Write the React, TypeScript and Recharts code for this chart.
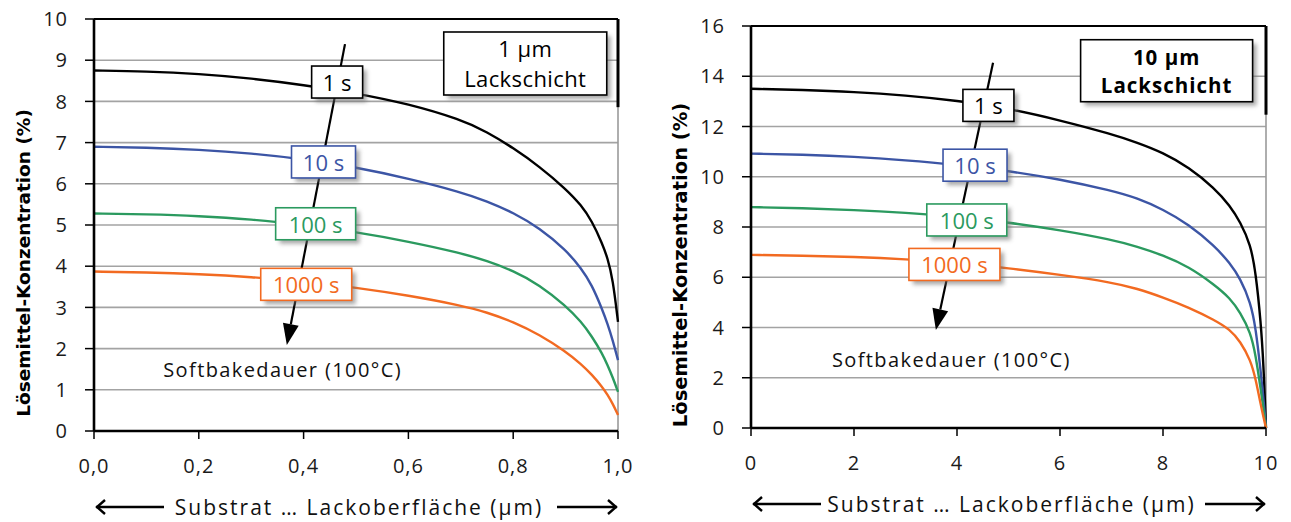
import React from "react";
import { LineChart, Line, XAxis, YAxis, CartesianGrid, ReferenceLine, ReferenceDot } from "recharts";

const FONT = '"Open Sans", "Noto Sans", sans-serif';
const TITLE_FONT = '"DejaVu Sans", Verdana, sans-serif';

const seriesKeys = ["s1", "s10", "s100", "s1000"];
const seriesNames = ["1 s", "10 s", "100 s", "1000 s"];
const seriesColors = ["#000000", "#3c55a5", "#2b9a5f", "#f26a21"];

// 1 µm Lackschicht
const thinX = [0, 0.1, 0.2, 0.3, 0.4, 0.5, 0.6, 0.7, 0.75, 0.8, 0.85, 0.9, 0.93, 0.95, 0.97, 0.98, 0.99, 1.0];
const thin1s = [8.75, 8.73, 8.67, 8.56, 8.4, 8.2, 7.94, 7.56, 7.26, 6.87, 6.42, 5.88, 5.48, 5.1, 4.55, 4.2, 3.7, 2.65];
const thin10s = [6.9, 6.88, 6.83, 6.74, 6.6, 6.4, 6.13, 5.8, 5.58, 5.3, 4.93, 4.4, 3.95, 3.55, 2.95, 2.6, 2.2, 1.72];
const thin100s = [5.28, 5.26, 5.22, 5.14, 5.0, 4.83, 4.6, 4.32, 4.13, 3.89, 3.55, 3.04, 2.65, 2.3, 1.88, 1.6, 1.3, 0.95];
const thin1000s = [3.87, 3.85, 3.81, 3.74, 3.63, 3.48, 3.29, 3.05, 2.88, 2.65, 2.34, 1.93, 1.62, 1.37, 1.07, 0.88, 0.66, 0.39];
const thinTicksX = [0, 0.2, 0.4, 0.6, 0.8, 1.0];
const thinTicksY = [0, 1, 2, 3, 4, 5, 6, 7, 8, 9, 10];

// 10 µm Lackschicht
const thickX = [0, 1, 2, 3, 4, 5, 6, 7, 7.5, 8, 8.5, 9, 9.3, 9.5, 9.7, 9.8, 9.9, 9.95, 10];
const thick1s = [13.5, 13.46, 13.38, 13.24, 13.03, 12.72, 12.25, 11.7, 11.36, 10.96, 10.38, 9.55, 8.85, 8.2, 7.3, 6.2, 4.2, 2.6, 0];
const thick10s = [10.92, 10.88, 10.8, 10.66, 10.48, 10.23, 9.9, 9.45, 9.15, 8.7, 8.1, 7.25, 6.56, 5.95, 5.0, 4.0, 2.2, 1.2, 0];
const thick100s = [8.79, 8.75, 8.68, 8.57, 8.42, 8.18, 7.88, 7.5, 7.22, 6.88, 6.42, 5.7, 5.17, 4.6, 3.8, 2.9, 1.5, 0.8, 0];
const thick1000s = [6.89, 6.86, 6.81, 6.72, 6.58, 6.36, 6.1, 5.8, 5.55, 5.2, 4.8, 4.3, 3.92, 3.45, 2.7, 1.95, 0.9, 0.45, 0];
const thickTicksX = [0, 2, 4, 6, 8, 10];
const thickTicksY = [0, 2, 4, 6, 8, 10, 12, 14, 16];

// label anchors in data units
const thinTagX = [0.464, 0.438, 0.423, 0.405];
const thinTagY = [8.47, 6.53, 5.03, 3.56];
const thickTagX = [4.61, 4.35, 4.19, 3.95];
const thickTagY = [12.84, 10.46, 8.28, 6.51];
const tagWidths = [51, 64, 80, 91];

const rows = (xs: number[], cols: number[][]) =>
  xs.map((x, i) => {
    const r: any = { x };
    seriesKeys.forEach((k, j) => (r[k] = cols[j][i]));
    return r;
  });

const thinData = rows(thinX, [thin1s, thin10s, thin100s, thin1000s]);
const thickData = rows(thickX, [thick1s, thick10s, thick100s, thick1000s]);

function TagBox(props: any) {
  const { cx, cy, w, h, color, lines, fs, weight, gap, spacing } = props;
  if (cx == null || cy == null) return null;
  const x0 = cx - w / 2;
  const y0 = cy - h / 2;
  const n = lines.length;
  return (
    <g>
      <rect x={x0 + 4} y={y0 + 4} width={w} height={h} fill="#6f6f6f" opacity={0.6} style={{ filter: "blur(2px)" }} />
      <rect x={x0} y={y0} width={w} height={h} fill="#fff" stroke={color} strokeWidth={1.6} />
      {lines.map((t: string, i: number) => (
        <text
          key={i}
          x={cx}
          y={cy + (i - (n - 1) / 2) * (gap || 29)}
          textAnchor="middle"
          dominantBaseline="central"
          fontFamily={FONT}
          fontSize={fs}
          fontWeight={weight || 400}
          letterSpacing={spacing || 0}
          fill={color}
        >
          {t}
        </text>
      ))}
    </g>
  );
}

function Caption(props: any) {
  const { cx, cy } = props;
  if (cx == null) return null;
  return (
    <text x={cx} y={cy} textAnchor="middle" dominantBaseline="central" fontFamily={FONT} fontSize={20} letterSpacing={1.4} fill="#111">
      Softbakedauer (100°C)
    </text>
  );
}

function Arrow(props: any) {
  const { x1, y1, x2, y2 } = props;
  if (x1 == null) return null;
  const dx = x2 - x1;
  const dy = y2 - y1;
  const len = Math.sqrt(dx * dx + dy * dy);
  const ux = dx / len;
  const uy = dy / len;
  const hl = 21;
  const hw = 8;
  const bx = x2 - ux * hl;
  const by = y2 - uy * hl;
  return (
    <g>
      <line x1={x1} y1={y1} x2={bx} y2={by} stroke="#000" strokeWidth={2.2} />
      <polygon
        points={`${x2},${y2} ${bx - uy * hw},${by + ux * hw} ${bx + uy * hw},${by - ux * hw}`}
        fill="#000"
      />
    </g>
  );
}

function YTitle(props: any) {
  const vb = props.viewBox || {};
  const cx = vb.x - 21;
  const cy = vb.y + vb.height / 2 + props.shift;
  return (
    <text
      x={cx}
      y={cy}
      transform={`rotate(-90 ${cx} ${cy})`}
      textAnchor="middle"
      dominantBaseline="central"
      fontFamily={TITLE_FONT}
      fontWeight="bold"
      fontSize={props.fs}
      fill="#000"
    >
      Lösemittel-Konzentration (%)
    </text>
  );
}

function XTitle(props: any) {
  const vb = props.viewBox || {};
  const y = vb.y + 76;
  const l = vb.x + 2;
  const r = vb.x + vb.width - 1;
  const c = vb.x + vb.width / 2 + 3;
  return (
    <g>
      <line x1={l} y1={y} x2={l + 68} y2={y} stroke="#000" strokeWidth={2.4} />
      <polyline points={`${l + 9},${y - 7} ${l + 1},${y} ${l + 9},${y + 7}`} fill="none" stroke="#000" strokeWidth={2.4} />
      <line x1={r - 60} y1={y} x2={r} y2={y} stroke="#000" strokeWidth={2.4} />
      <polyline points={`${r - 9},${y - 7} ${r - 1},${y} ${r - 9},${y + 7}`} fill="none" stroke="#000" strokeWidth={2.4} />
      <text x={c} y={y} textAnchor="middle" dominantBaseline="central" fontFamily={FONT} fontSize={21} letterSpacing={2} fill="#111">
        Substrat … Lackoberfläche (µm)
      </text>
    </g>
  );
}

function Panel(props: any) {
  const { data, xMax, yMax, xTicks, yTicks, xFmt, tagX, tagY, arrow, caption, info, infoBold, blackEdge, margin, width, titleFs, titleShift } = props;
  const tickStyle = { fontFamily: FONT, fontSize: 20, fill: "#1a1a1a", letterSpacing: 1 };
  return (
    <LineChart width={width} height={522} data={data} margin={margin}>
      <CartesianGrid horizontal vertical={false} stroke="#a3a3a3" strokeWidth={1.6} />
      <XAxis
        dataKey="x"
        type="number"
        domain={[0, xMax]}
        ticks={xTicks}
        tickFormatter={xFmt}
        height={60}
        tickSize={8}
        tickMargin={20}
        tick={tickStyle}
        axisLine={{ stroke: "#000", strokeWidth: 2.6 }}
        tickLine={{ stroke: "#000", strokeWidth: 1.5 }}
        label={{ content: (p: any) => <XTitle {...p} /> }}
      />
      <YAxis
        type="number"
        domain={[0, yMax]}
        ticks={yTicks}
        width={50}
        tickSize={9}
        tickMargin={17}
        tick={tickStyle}
        axisLine={{ stroke: "#000", strokeWidth: 2.6 }}
        tickLine={{ stroke: "#000", strokeWidth: 1.5 }}
        label={{ content: (p: any) => <YTitle {...p} fs={titleFs} shift={titleShift} /> }}
      />
      <ReferenceLine y={yMax} stroke="#000" strokeWidth={1.8} />
      <ReferenceLine x={xMax} stroke="#9a9a9a" strokeWidth={1.6} />
      <ReferenceLine segment={[{ x: xMax, y: yMax }, { x: xMax, y: blackEdge }]} stroke="#000" strokeWidth={3} />
      {seriesKeys.map((k, i) => (
        <Line
          key={k}
          type="basis"
          dataKey={k}
          name={seriesNames[i]}
          stroke={seriesColors[i]}
          strokeWidth={2.4}
          dot={false}
          isAnimationActive={false}
        />
      ))}
      <ReferenceLine segment={arrow} shape={(p: any) => <Arrow {...p} />} />
      {seriesNames.map((name, i) => (
        <ReferenceDot
          key={name}
          x={tagX[i]}
          y={tagY[i]}
          r={1}
          shape={(p: any) => (
            <TagBox cx={p.cx} cy={p.cy} w={tagWidths[i]} h={32} color={seriesColors[i]} lines={[name]} fs={22} />
          )}
        />
      ))}
      <ReferenceDot x={caption[0]} y={caption[1]} r={1} shape={(p: any) => <Caption {...p} />} />
      <ReferenceDot
        x={info.x}
        y={info.y}
        r={1}
        shape={(p: any) => (
          <TagBox
            cx={p.cx}
            cy={p.cy}
            w={info.w}
            h={info.h}
            color="#000"
            lines={info.lines}
            fs={infoBold ? 20.5 : 22}
            weight={infoBold ? 700 : 400}
            gap={infoBold ? 28 : 30}
            spacing={infoBold ? 1 : 0.4}
          />
        )}
      />
    </LineChart>
  );
}

export default function App() {
  return (
    <div style={{ position: "absolute", left: 0, top: 0, width: 1291, height: 522, background: "#fff", overflow: "hidden" }}>
      <div style={{ position: "absolute", left: 0, top: 0 }}>
        <Panel
          data={thinData}
          width={640}
          margin={{ top: 19, right: 22, bottom: 31, left: 44 }}
          xMax={1}
          yMax={10}
          xTicks={thinTicksX}
          yTicks={thinTicksY}
          xFmt={(v: number) => v.toFixed(1).replace(".", ",")}
          tagX={thinTagX}
          tagY={thinTagY}
          arrow={[{ x: 0.479, y: 9.39 }, { x: 0.368, y: 2.09 }]}
          caption={[0.36, 1.5]}
          info={{ x: 0.823, y: 8.92, w: 163, h: 63, lines: ["1 µm", "Lackschicht"] }}
          infoBold={false}
          blackEdge={7.86}
          titleFs={18.5}
          titleShift={38}
        />
      </div>
      <div style={{ position: "absolute", left: 645, top: 0 }}>
        <Panel
          data={thickData}
          width={646}
          margin={{ top: 26, right: 25, bottom: 34, left: 56 }}
          xMax={10}
          yMax={16}
          xTicks={thickTicksX}
          yTicks={thickTicksY}
          xFmt={(v: number) => String(v)}
          tagX={thickTagX}
          tagY={thickTagY}
          arrow={[{ x: 4.7, y: 14.54 }, { x: 3.59, y: 3.9 }]}
          caption={[3.89, 2.71]}
          info={{ x: 8.07, y: 14.22, w: 172, h: 62, lines: ["10 µm", "Lackschicht"] }}
          infoBold={true}
          blackEdge={12.47}
          titleFs={19.5}
          titleShift={38}
        />
      </div>
    </div>
  );
}
